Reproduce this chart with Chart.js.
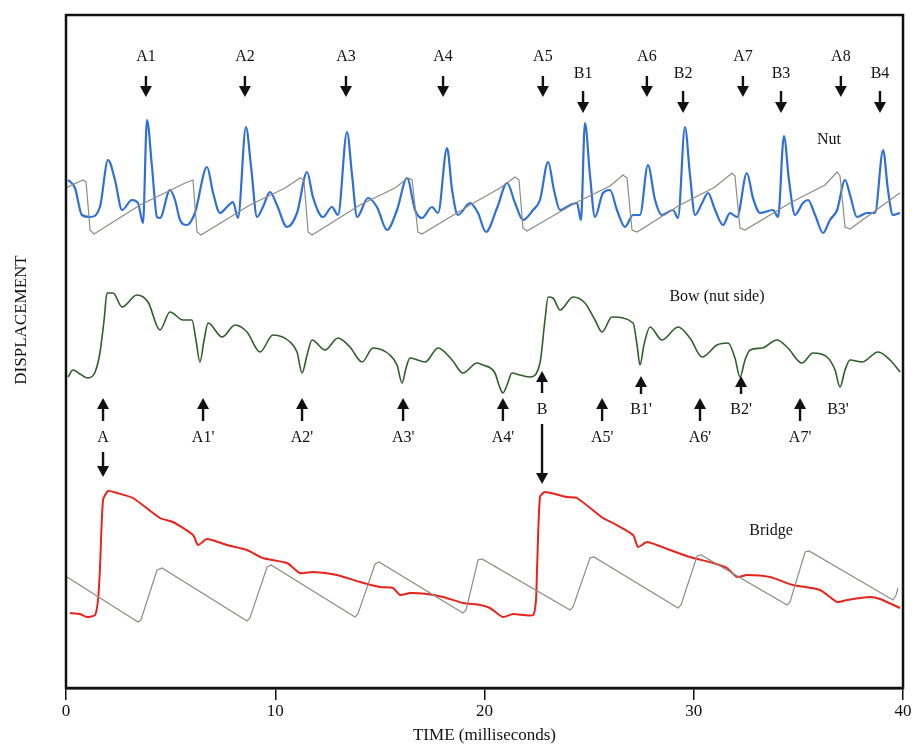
<!DOCTYPE html>
<html lang="en">
<head>
  <meta charset="UTF-8" />
  <title>Displacement - nut, bow, bridge</title>
  <script src="https://cdn.jsdelivr.net/npm/chart.js"></script>
</head>
<style>
    body {
      margin: 0;
      background: #fff;
    }
    #grafico {
      display: block;
      width: 914px !important;
      height: 746px !important;
    }
  </style>
<body>
  <canvas id="grafico" width="914" height="746"></canvas>
  <script>
    // traces: [time (ms), displacement (arbitrary units)]
    const nutString = [
      [0.10,508],[0.43,500],[0.76,473],[1.15,471],[1.62,481],[2.01,528],[2.34,508],[2.68,478],
      [3.15,488],[3.44,485],[3.68,465],[3.87,568],[4.11,521],[4.35,471],[4.49,470],[4.97,498],
      [5.21,488],[5.45,468],[5.78,463],[6.16,475],[6.74,521],[7.03,495],[7.36,475],[7.69,481],
      [7.98,486],[8.22,470],[8.60,561],[8.85,520],[9.13,471],[9.41,481],[9.75,496],[10.08,483],
      [10.56,461],[11.04,475],[11.52,516],[11.80,491],[12.28,471],[12.71,481],[13.00,473],[13.43,556],
      [13.67,513],[13.91,471],[14.43,490],[14.86,481],[15.34,458],[15.82,478],[16.30,510],[16.68,478],
      [17.01,470],[17.49,481],[17.78,475],[18.21,540],[18.45,498],[18.73,473],[19.31,485],[19.69,475],
      [20.07,456],[20.60,480],[21.08,505],[21.46,485],[21.84,468],[22.32,478],[22.65,488],[23.04,526],
      [23.32,498],[23.61,478],[24.09,483],[24.42,485],[24.61,468],[24.80,565],[25.04,513],[25.28,471],
      [25.66,495],[26.00,498],[26.33,478],[26.71,461],[27.10,473],[27.43,473],[27.81,523],[28.15,488],
      [28.48,473],[29.01,478],[29.25,470],[29.58,561],[29.82,513],[30.06,473],[30.40,485],[30.68,495],
      [31.02,478],[31.40,463],[31.73,475],[32.07,471],[32.54,515],[32.83,490],[33.17,475],[33.79,478],
      [34.03,471],[34.31,552],[34.55,508],[34.84,473],[35.22,485],[35.46,488],[35.80,473],[36.18,455],
      [36.51,468],[36.85,478],[37.23,508],[37.47,493],[37.80,471],[38.28,475],[38.66,475],[39.05,538],
      [39.28,498],[39.52,473],[39.86,475]
    ];
    const nutSawtooth = [
      [0.00,500],[0.81,508],[0.96,506],[1.15,458],[1.34,454],[3.54,483],[5.21,500],[5.69,505],
      [6.07,508],[6.26,456],[6.45,453],[8.79,483],[10.47,500],[11.18,510],[11.37,508],[11.57,456],
      [11.76,453],[14.05,483],[15.72,500],[16.34,510],[16.54,508],[16.82,456],[17.01,454],[19.31,483],
      [20.74,500],[21.46,511],[21.65,508],[21.84,460],[22.03,457],[24.33,485],[26.00,502],[26.62,513],
      [26.81,510],[27.05,458],[27.29,456],[29.34,483],[31.02,501],[31.83,515],[31.97,512],[32.21,460],
      [32.45,458],[34.60,485],[36.27,503],[36.85,516],[36.99,512],[37.23,461],[37.47,459],[39.71,493],
      [39.86,495]
    ];
    const bowNutSide = [
      [0.10,311],[0.33,318],[0.67,314],[1.05,310],[1.39,316],[1.62,335],[1.82,368],[1.96,395],
      [2.25,395],[2.68,381],[3.39,393],[3.92,386],[4.49,358],[4.97,376],[5.59,368],[6.02,368],
      [6.21,348],[6.40,326],[6.60,348],[6.79,365],[7.46,351],[8.08,363],[8.65,356],[9.27,336],
      [9.89,353],[10.71,346],[11.04,336],[11.28,315],[11.52,333],[11.76,348],[12.38,338],[13.00,350],
      [13.57,341],[14.15,326],[14.67,340],[15.48,333],[15.82,323],[16.06,305],[16.25,320],[16.44,330],
      [17.16,326],[17.78,340],[18.45,328],[18.97,315],[19.64,325],[19.93,323],[20.50,315],[20.69,303],
      [20.88,295],[21.08,303],[21.31,315],[21.70,313],[22.18,311],[22.65,325],[22.89,368],[23.04,391],
      [23.27,390],[23.61,378],[24.23,391],[24.80,385],[25.28,368],[25.62,356],[26.09,371],[27.10,365],
      [27.29,343],[27.43,323],[27.62,343],[27.91,361],[28.48,348],[29.25,361],[29.82,350],[30.40,331],
      [31.11,343],[31.64,345],[31.97,330],[32.21,311],[32.45,328],[32.69,338],[33.26,340],[33.98,348],
      [34.50,340],[35.17,325],[35.70,335],[36.37,331],[36.75,318],[36.99,301],[37.23,318],[37.47,328],
      [38.04,326],[38.81,336],[39.38,328],[39.86,316]
    ];
    const bridgeString = [
      [0.19,75],[0.67,74],[1.00,71],[1.39,73],[1.53,88],[1.62,118],[1.77,188],[2.01,197],
      [2.44,195],[3.20,190],[4.49,170],[5.11,166],[6.07,153],[6.31,143],[6.74,149],[7.69,143],
      [8.65,138],[9.41,130],[10.56,125],[11.18,115],[11.80,116],[12.95,113],[14.05,106],[15.01,101],
      [15.63,100],[15.96,93],[16.44,95],[17.25,94],[18.02,91],[18.97,85],[19.79,83],[20.26,80],
      [20.88,71],[21.36,74],[22.32,73],[22.46,88],[22.51,118],[22.65,191],[22.89,196],[23.94,191],
      [24.42,190],[25.66,170],[26.14,165],[27.10,153],[27.34,141],[27.77,146],[28.87,138],[29.82,131],
      [30.92,125],[31.59,120],[32.07,111],[32.54,113],[33.64,111],[34.74,103],[36.03,98],[36.85,86],
      [37.33,88],[38.42,91],[38.90,89],[39.86,80]
    ];
    const bridgeSawtooth = [
      [0.05,111],[3.44,66],[3.58,68],[4.35,118],[4.59,120],[8.65,67],[8.79,70],[9.61,121],
      [9.80,123],[13.81,71],[13.95,74],[14.77,124],[14.96,126],[18.97,75],[19.12,78],[19.69,128],
      [19.88,129],[24.09,78],[24.23,81],[25.04,130],[25.23,131],[29.25,80],[29.39,83],[30.16,132],
      [30.35,133],[34.46,83],[34.60,86],[35.32,136],[35.51,137],[39.52,88],[39.67,93],[39.76,100]
    ];

    // marked events (ms)
    const nutALabels = ['A1','A2','A3','A4','A5','A6','A7','A8'];
    const nutATimes = [3.82, 8.55, 13.38, 18.02, 22.79, 27.76, 32.35, 37.03];
    const nutBLabels = ['B1','B2','B3','B4'];
    const nutBTimes = [24.71, 29.49, 34.17, 38.90];
    const bowALabels = ['A',"A1'","A2'","A3'","A4'","A5'","A6'","A7'"];
    const bowATimes = [1.77, 6.55, 11.28, 16.11, 20.88, 25.62, 30.30, 35.08];
    const bowBLabels = ['B',"B1'","B2'","B3'"];
    const bowBTimes = [22.75, 27.48, 32.26, 36.89];
    const xTicks = [0, 10, 20, 30, 40];

    const serif = '"Liberation Serif", "DejaVu Serif", serif';
    const toXY = arr => arr.map(p => ({ x: p[0], y: p[1] }));

    function arrow(ctx, x, yFrom, yTo) {
      const dir = yTo > yFrom ? 1 : -1;
      const head = 11;
      ctx.beginPath();
      ctx.moveTo(x, yFrom);
      ctx.lineTo(x, yTo - dir * head);
      ctx.stroke();
      ctx.beginPath();
      ctx.moveTo(x, yTo);
      ctx.lineTo(x - 6, yTo - dir * head);
      ctx.lineTo(x + 6, yTo - dir * head);
      ctx.closePath();
      ctx.fill();
    }

    const marcas = {
      id: 'marcas',
      afterDraw(chart) {
        const ctx = chart.ctx;
        const xs = chart.scales.x;
        const a = chart.chartArea;
        ctx.save();
        // moldura
        ctx.strokeStyle = '#111';
        ctx.lineWidth = 2.5;
        ctx.strokeRect(a.left, a.top, a.right - a.left, a.bottom - a.top);

        ctx.fillStyle = '#111';
        ctx.strokeStyle = '#111';
        ctx.lineWidth = 2.4;
        ctx.font = '16px ' + serif;
        ctx.textAlign = 'center';
        ctx.textBaseline = 'middle';

        nutATimes.forEach((t, i) => {
          const x = xs.getPixelForValue(t);
          ctx.fillText(nutALabels[i], x, 57);
          arrow(ctx, x, 76, 97);
        });
        nutBTimes.forEach((t, i) => {
          const x = xs.getPixelForValue(t);
          ctx.fillText(nutBLabels[i], x, 74);
          arrow(ctx, x, 91, 113);
        });
        bowATimes.forEach((t, i) => {
          const x = xs.getPixelForValue(t);
          ctx.fillText(bowALabels[i], x, 438);
          arrow(ctx, x, 421, 398);
          if (i === 0) arrow(ctx, x, 452, 477);
        });
        bowBTimes.forEach((t, i) => {
          const x = xs.getPixelForValue(t);
          ctx.fillText(bowBLabels[i], x, 410);
          if (i === 0) {
            arrow(ctx, x, 393, 371);
            arrow(ctx, x, 424, 484);
          } else if (i < 3) {
            arrow(ctx, x, 394, 376);
          }
        });

        ctx.fillText('Nut', 829, 140);
        ctx.fillText('Bow (nut side)', 717, 297);
        ctx.fillText('Bridge', 771, 531);

        ctx.font = '17px ' + serif;
        ctx.translate(22, 320);
        ctx.rotate(-Math.PI / 2);
        ctx.fillText('DISPLACEMENT', 0, 0);
        ctx.restore();
      }
    };

    const ctx = document.getElementById('grafico').getContext('2d');
    new Chart(ctx, {
      type: 'line',
      data: {
        datasets: [
          { label: 'Nut (saw)', data: toXY(nutSawtooth), borderColor: '#8c8c86', borderWidth: 1.2, tension: 0 },
          { label: 'Nut', data: toXY(nutString), borderColor: '#2f6fd6', borderWidth: 2.2, cubicInterpolationMode: 'monotone' },
          { label: 'Bow (nut side)', data: toXY(bowNutSide), borderColor: '#2f5e2a', borderWidth: 1.6, cubicInterpolationMode: 'monotone' },
          { label: 'Bridge (saw)', data: toXY(bridgeSawtooth), borderColor: '#8c8c86', borderWidth: 1.2, tension: 0 },
          { label: 'Bridge', data: toXY(bridgeString), borderColor: '#e8231c', borderWidth: 2, tension: 0.2 }
        ]
      },
      options: {
        responsive: false,
        animation: false,
        elements: { point: { radius: 0 } },
        layout: { padding: { left: 66, right: 11, top: 15, bottom: 0 } },
        plugins: { legend: { display: false }, tooltip: { enabled: false } },
        scales: {
          x: {
            type: 'linear',
            min: 0,
            max: 40,
            afterBuildTicks: s => { s.ticks = xTicks.map(v => ({ value: v })); },
            afterFit: s => { s.height = 58; },
            grid: { drawOnChartArea: false, drawTicks: true, tickLength: 12, color: '#111', lineWidth: 1.5 },
            border: { display: true, color: '#111', width: 2.5 },
            ticks: { color: '#111', padding: 1, maxRotation: 0, font: { family: serif, size: 17 } },
            title: { display: true, text: 'TIME (milliseconds)', color: '#111', padding: { top: 0, bottom: 0 }, font: { family: serif, size: 17 } }
          },
          y: {
            display: false,
            min: 0,
            max: 673
          }
        }
      },
      plugins: [marcas]
    });
  </script>
</body>
</html>
